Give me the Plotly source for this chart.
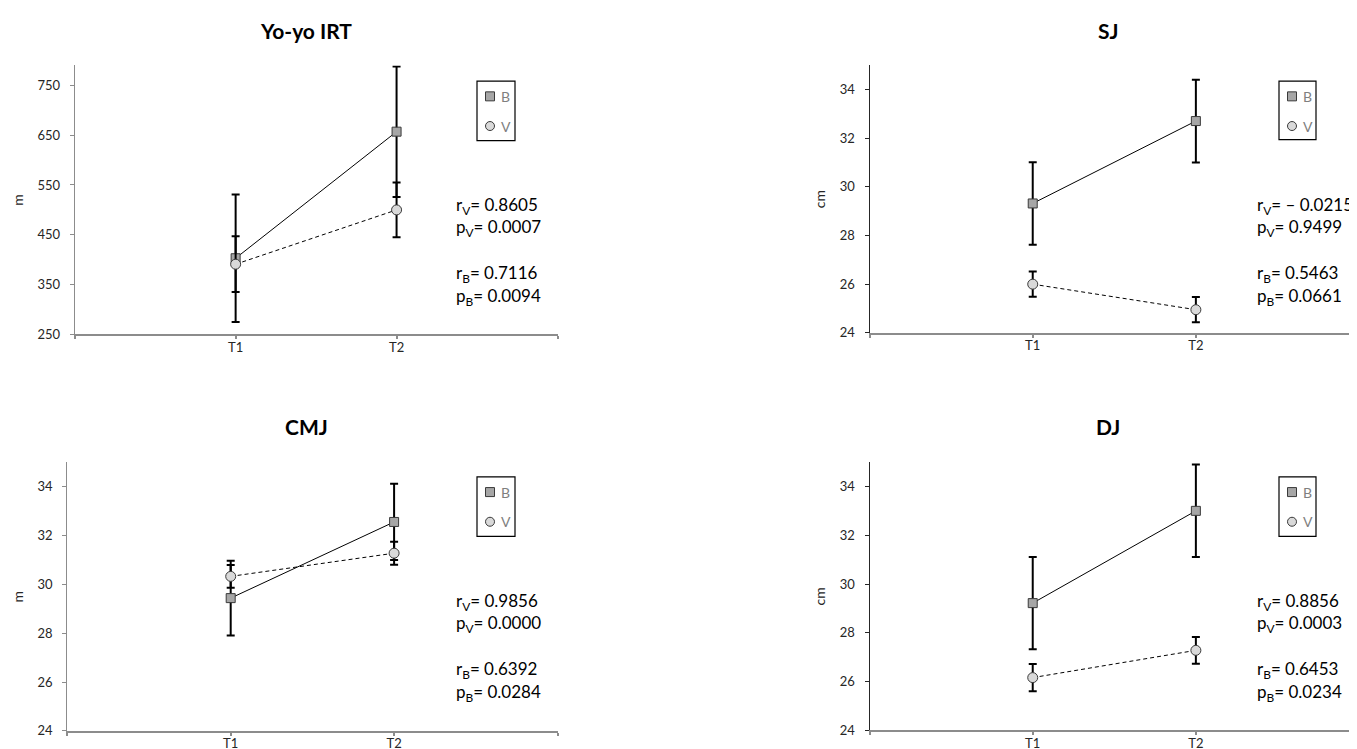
import plotly.graph_objects as go

W, H = 1357, 749

# ---------------- data ----------------
categories = ["T1", "T2"]
panel_titles = ["Yo-yo IRT", "SJ", "CMJ", "DJ"]
y_units = ["m", "cm", "m", "cm"]

yoyo_B = [403, 657]
yoyo_B_err = [128, 131]
yoyo_V = [391, 500]
yoyo_V_err = [56, 55]

sj_B = [29.32, 32.71]
sj_B_err = [1.70, 1.70]
sj_V = [26.00, 24.95]
sj_V_err = [0.52, 0.52]

cmj_B = [29.44, 32.56]
cmj_B_err = [1.53, 1.56]
cmj_V = [30.33, 31.28]
cmj_V_err = [0.47, 0.47]

dj_B = [29.22, 33.01]
dj_B_err = [1.89, 1.90]
dj_V = [26.16, 27.28]
dj_V_err = [0.56, 0.55]

r_V = [0.8605, -0.0215, 0.9856, 0.8856]
p_V = [0.0007, 0.9499, 0.0000, 0.0003]
r_B = [0.7116, 0.5463, 0.6392, 0.6453]
p_B = [0.0094, 0.0661, 0.0284, 0.0234]

y_ranges = [[250, 790], [24, 35], [24, 35], [24, 35]]
y_tickvals = [[250, 350, 450, 550, 650, 750],
              [24, 26, 28, 30, 32, 34],
              [24, 26, 28, 30, 32, 34],
              [24, 26, 28, 30, 32, 34]]

series_B = [(yoyo_B, yoyo_B_err), (sj_B, sj_B_err), (cmj_B, cmj_B_err), (dj_B, dj_B_err)]
series_V = [(yoyo_V, yoyo_V_err), (sj_V, sj_V_err), (cmj_V, cmj_V_err), (dj_V, dj_V_err)]

# ---------------- layout geometry (pixels) ----------------
# plot area: left, right, top, bottom
boxes = [(66.7, 549.5, 58, 330),
         (861.6, 1351, 58, 328.3),
         (59.3, 549.5, 459.3, 730.7),
         (861.6, 1351, 459.3, 730)]
title_pos = [(298, 23), (1100, 23), (298, 423), (1100, 423)]
legend_box = [(469, 507, 74, 134), (1271, 1308, 74, 133),
              (469, 507, 474, 534), (1271, 1308, 474, 534)]
stats_x = [446, 1247, 446, 1247]
stats_dy = [200, 222.5, 269, 292.5]
yaxis_color = ["#8c8c8c", "#262626", "#8c8c8c", "#262626"]

FONT = "Lato, 'Open Sans', sans-serif"
C_B = "#a6a6a6"
C_V = "#d9d9d9"
EDGE = "#3a3a3a"


def fx(x):
    return x / W


def fy(y):
    return 1 - y / H


def fmt(val):
    return ("– " if val < 0 else "") + f"{abs(val):.4f}"


xpos = [i + 1 for i in range(len(categories))]

fig = go.Figure()
annotations = []
shapes = []
layout_axes = {}

for k in range(4):
    sfx = "" if k == 0 else str(k + 1)
    xa, ya = "x" + sfx, "y" + sfx
    (b, be), (v, ve) = series_B[k], series_V[k]
    fig.add_trace(go.Scatter(
        x=xpos, y=b, xaxis=xa, yaxis=ya, name="B", showlegend=False,
        mode="lines+markers",
        line=dict(color="black", width=1),
        marker=dict(symbol="square", size=9, color=C_B, line=dict(color=EDGE, width=1)),
        error_y=dict(type="data", array=be, visible=True, color="black", thickness=2, width=4),
    ))
    fig.add_trace(go.Scatter(
        x=xpos, y=v, xaxis=xa, yaxis=ya, name="V", showlegend=False,
        mode="lines+markers",
        line=dict(color="black", width=1, dash="4px,3px"),
        marker=dict(symbol="circle", size=10, color=C_V, line=dict(color=EDGE, width=1)),
        error_y=dict(type="data", array=ve, visible=True, color="black", thickness=2, width=4),
    ))

    L, R, T, Bt = boxes[k]
    layout_axes["xaxis" + sfx] = dict(
        domain=[fx(L), fx(R)], anchor=ya, range=[0, len(categories) + 1],
        tickvals=[0] + xpos + [len(categories) + 1],
        ticktext=[""] + categories + [""],
        showgrid=False, zeroline=False, showline=True, linecolor="#8c8c8c", linewidth=1.5,
        ticks="outside", ticklen=3, tickcolor="#8c8c8c", tickwidth=1.5,
        tickfont=dict(family=FONT, size=13, color="#262626"),
        ticklabelstandoff=-3,
        fixedrange=True,
    )
    layout_axes["yaxis" + sfx] = dict(
        domain=[fy(Bt), fy(T)], anchor=xa, range=y_ranges[k],
        tickvals=y_tickvals[k],
        showgrid=False, zeroline=False, showline=True, linecolor=yaxis_color[k], linewidth=1.2,
        ticks="outside", ticklen=4, tickcolor=yaxis_color[k], tickwidth=1.2,
        tickfont=dict(family=FONT, size=13, color="#262626"),
        ticklabelstandoff=7,
        title=dict(text=y_units[k], font=dict(family=FONT, size=14, color="#262626"), standoff=10),
        fixedrange=True,
    )

    # panel title
    tx, ty = title_pos[k]
    annotations.append(dict(text="<b>" + panel_titles[k] + "</b>", x=fx(tx), y=fy(ty),
                            xref="paper", yref="paper", showarrow=False,
                            xanchor="center", yanchor="middle",
                            font=dict(family=FONT, size=21, color="black")))

    # statistics text
    lines = [f"r<sub>V</sub>= {fmt(r_V[k])}", f"p<sub>V</sub>= {fmt(p_V[k])}",
             f"r<sub>B</sub>= {fmt(r_B[k])}", f"p<sub>B</sub>= {fmt(p_B[k])}"]
    base = 0 if k < 2 else 400
    for txt, dy in zip(lines, stats_dy):
        annotations.append(dict(text=txt, x=fx(stats_x[k]), y=fy(base + dy),
                                xref="paper", yref="paper", showarrow=False,
                                xanchor="left", yanchor="middle",
                                font=dict(family=FONT, size=17, color="black")))

    # legend box
    lx0, lx1, ly0, ly1 = legend_box[k]
    shapes.append(dict(type="rect", xref="paper", yref="paper",
                       x0=fx(lx0), x1=fx(lx1), y0=fy(ly1), y1=fy(ly0),
                       line=dict(color="black", width=1.2), fillcolor="white", layer="above"))
    mx = lx0 + 13
    for name, col, stype, my in [("B", C_B, "rect", ly0 + 15.3), ("V", C_V, "circle", ly0 + 45.3)]:
        shapes.append(dict(type=stype, xref="paper", yref="paper",
                           xsizemode="pixel", ysizemode="pixel",
                           xanchor=fx(mx), yanchor=fy(my),
                           x0=-4.5, x1=4.5, y0=-4.5, y1=4.5,
                           line=dict(color=EDGE, width=1), fillcolor=col, layer="above"))
        annotations.append(dict(text=name, x=fx(mx + 9), y=fy(my), xref="paper", yref="paper",
                                showarrow=False, xanchor="left", yanchor="middle",
                                font=dict(family=FONT, size=14, color="#7f7f7f")))

fig.update_layout(
    width=W, height=H,
    margin=dict(l=0, r=0, t=0, b=0),
    paper_bgcolor="white", plot_bgcolor="white",
    showlegend=False,
    annotations=annotations,
    shapes=shapes,
    **layout_axes,
)

fig.write_html("out.html")
